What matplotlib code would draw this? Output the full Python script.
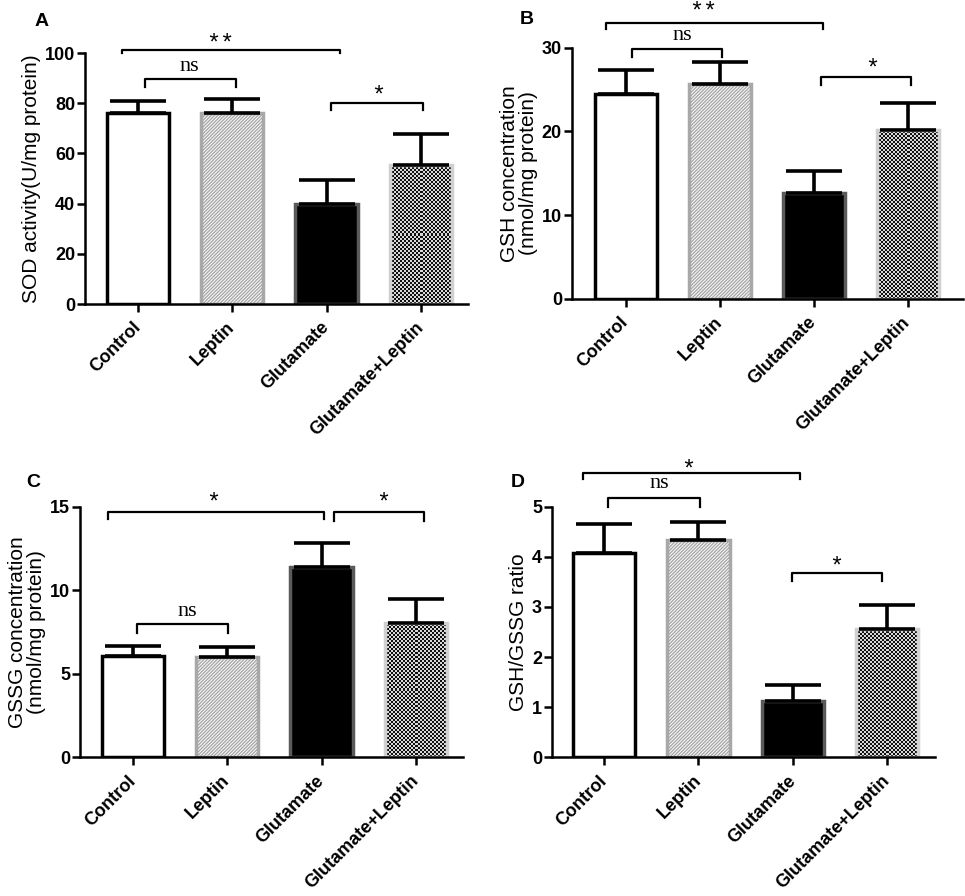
import numpy as np
import matplotlib
matplotlib.use("Agg")
from matplotlib import pyplot as plt
from matplotlib import transforms
from matplotlib.colors import ListedColormap

groups = ["Control", "Leptin", "Glutamate", "Glutamate+Leptin"]

sod_mean = [76.0, 76.0, 40.0, 55.2]
sod_err = [5.0, 5.6, 9.4, 12.7]
gsh_mean = [24.5, 25.7, 12.6, 20.2]
gsh_err = [2.8, 2.6, 2.7, 3.2]
gssg_mean = [6.06, 5.98, 11.4, 8.06]
gssg_err = [0.6, 0.6, 1.4, 1.42]
ratio_mean = [4.08, 4.33, 1.13, 2.55]
ratio_err = [0.57, 0.37, 0.31, 0.48]

# brackets: (label, x1, x2, height, tip, text x, text y)
sod_sig = [("**", -0.17, 2.14, 101.3, 100.0, 0.87, 105.5),
           ("ns", 0.08, 1.035, 89.5, 86.5, 0.54, 94.5),
           ("*", 2.05, 3.02, 80.2, 77.3, 2.55, 85.0)]
gsh_sig = [("**", -0.21, 2.10, 32.9, 32.2, 0.83, 34.8),
           ("ns", 0.064, 1.03, 29.9, 28.9, 0.60, 31.5),
           ("*", 2.08, 3.04, 26.5, 25.5, 2.62, 28.0)]
gssg_sig = [("*", -0.265, 2.03, 14.66, 14.24, 0.85, 15.5),
            ("*", 2.13, 3.09, 14.66, 14.16, 2.65, 15.5),
            ("ns", 0.046, 1.007, 7.98, 7.46, 0.58, 8.72)]
ratio_sig = [("*", -0.22, 2.08, 5.68, 5.55, 0.89, 5.84),
             ("ns", 0.046, 1.02, 5.17, 5.0, 0.58, 5.47),
             ("*", 1.99, 2.94, 3.67, 3.52, 2.46, 3.90)]

plt.rcParams['font.family'] = ['Liberation Sans', 'DejaVu Sans']
plt.rcParams['hatch.linewidth'] = 1.0

W = 0.66
x = np.arange(len(groups))
checker_cmap = ListedColormap(['#101010', '#d8d8d8'])


def checker_bar(ax, xc, h):
    # fine checkerboard texture filling the bar (about 2 px cells)
    x0, x1 = xc - W / 2, xc + W / 2
    p0 = ax.transData.transform((x0, 0))
    p1 = ax.transData.transform((x1, h))
    nx = max(1, int(round((p1[0] - p0[0]) / 2)))
    ny = max(1, int(round((p1[1] - p0[1]) / 2)))
    tex = np.indices((ny, nx)).sum(axis=0) % 2
    ax.imshow(tex, cmap=checker_cmap, extent=(x0, x1, 0, h), aspect='auto',
              interpolation='nearest', zorder=2)


def draw_panel(fig, ax, means, errs, sig, ylim, yticks, ylabel, xlim):
    ax.set_xlim(*xlim)
    ax.set_ylim(*ylim)
    # control
    ax.bar(x[0], means[0], W, color='white', edgecolor='black', linewidth=2.5, zorder=2)
    # leptin
    ax.bar(x[1], means[1], W, color='white', edgecolor='#a8a8a8', hatch='//////////',
           linewidth=2.5, zorder=2)
    # glutamate
    ax.bar(x[2], means[2], W, color='black', edgecolor='#5a5a5a', linewidth=2.5, zorder=2)
    # glutamate+leptin: checker texture, then light edge
    checker_bar(ax, x[3], means[3])
    ax.bar(x[3], means[3], W, color='none', edgecolor='#d0d0d0', linewidth=2.5, zorder=2.5)

    ax.errorbar(x, means, yerr=[np.zeros(len(errs)), errs], fmt='none',
                ecolor='black', elinewidth=2.6, capsize=20, capthick=2.6, zorder=3)

    star_tr = transforms.offset_copy(ax.transData, fig=fig, y=-5, units='dots')
    for lab, x1, x2, h, tip, tx, ty in sig:
        ax.plot([x1, x1, x2, x2], [tip, h, h, tip], color='black', lw=1.6,
                clip_on=False, zorder=4)
        if lab == "ns":
            ax.text(tx, ty, lab, ha='center', va='center', fontsize=16,
                    family=['Liberation Serif', 'DejaVu Serif'], clip_on=False)
        else:
            ax.text(tx, ty, lab, ha='center', va='center', fontsize=17,
                    family=['Liberation Mono', 'DejaVu Sans Mono'], clip_on=False,
                    transform=star_tr)

    ax.set_xlim(*xlim)
    ax.set_ylim(*ylim)
    ax.set_yticks(yticks)
    ax.set_xticks(x)
    ax.set_xticklabels(groups, rotation=45, ha='right', va='center',
                       rotation_mode='anchor', fontsize=13, fontweight='bold')
    for t in ax.get_yticklabels():
        t.set_fontweight('bold')
        t.set_fontsize(13)
    ax.set_ylabel(ylabel, fontsize=15, labelpad=3, linespacing=1.0)
    for s in ['top', 'right']:
        ax.spines[s].set_visible(False)
    for s in ['left', 'bottom']:
        ax.spines[s].set_linewidth(1.8)
    ax.tick_params(width=1.8, length=6, direction='out')
    ax.tick_params(axis='x', pad=9)
    ax.tick_params(axis='y', pad=1)


fig = plt.figure(figsize=(9.65, 8.96), dpi=100)

axA = fig.add_axes([0.088, 0.6607, 0.397, 0.2801])
draw_panel(fig, axA, sod_mean, sod_err, sod_sig, (0, 100), [0, 20, 40, 60, 80, 100],
           "SOD activity(U/mg protein)", (-0.562, 3.50))
axB = fig.add_axes([0.5924, 0.6663, 0.4056, 0.2805])
draw_panel(fig, axB, gsh_mean, gsh_err, gsh_sig, (0, 30), [0, 10, 20, 30],
           "GSH concentration\n(nmol/mg protein)", (-0.573, 3.59))
axC = fig.add_axes([0.0829, 0.1548, 0.3969, 0.2797])
draw_panel(fig, axC, gssg_mean, gssg_err, gssg_sig, (0, 15), [0, 5, 10, 15],
           "GSSG concentration\n(nmol/mg protein)", (-0.56, 3.50))
axD = fig.add_axes([0.5717, 0.1548, 0.3972, 0.2797])
draw_panel(fig, axD, ratio_mean, ratio_err, ratio_sig, (0, 5), [0, 1, 2, 3, 4, 5],
           "GSH/GSSG ratio", (-0.555, 3.505))

for lab, px, py in [("A", 42, 22), ("B", 527, 20), ("C", 33, 482), ("D", 518, 482)]:
    fig.text(px / 965, 1 - py / 896, lab, fontsize=14, fontweight='bold',
             ha='center', va='center')

fig.savefig("out.png", dpi=100)
